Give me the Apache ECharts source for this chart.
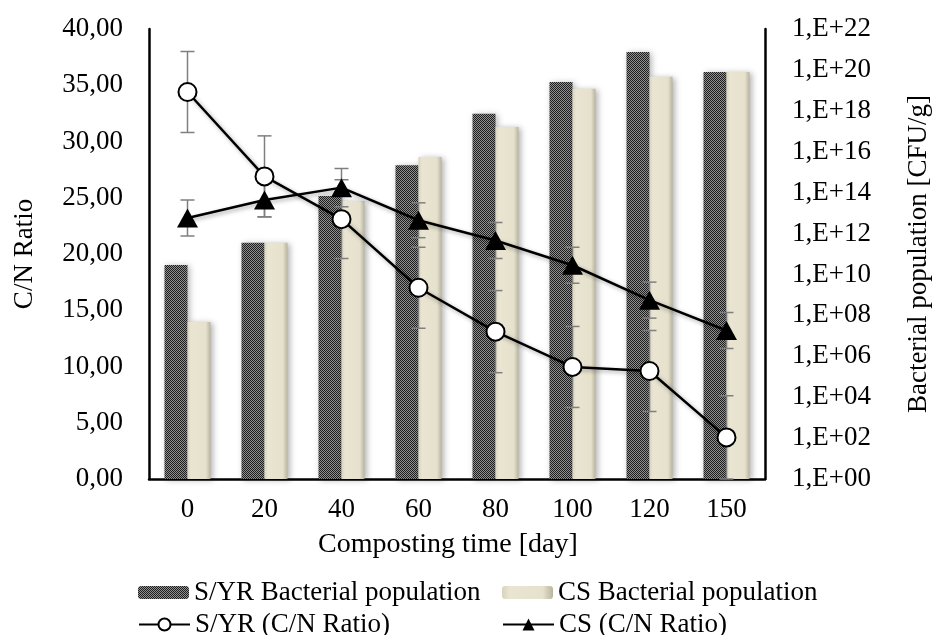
<!DOCTYPE html>
<html>
<head>
<meta charset="utf-8">
<script src="https://cdn.jsdelivr.net/npm/echarts@6/dist/echarts.min.js"></script>
<style>
  html, body { margin: 0; padding: 0; background: #fff; }
  #chart { width: 935px; height: 635px; }
</style>
</head>
<body>
<div id="chart"></div>
<script>
// composting days
const days = ['0', '20', '40', '60', '80', '100', '120', '150']

// bacterial population [CFU/g], right (log) axis
const syrBacteria = [2.9e10, 3.5e11, 6.9e13, 2.2e15, 7.1e17, 2.6e19, 7.6e20, 7.9e19]
const csBacteria = [4.8e7, 3.5e11, 3.9e13, 5.6e15, 1.6e17, 1.2e19, 4.6e19, 7.9e19]

// C/N ratio, left axis, with +/- error
const syrCN = [34.4, 26.9, 23.1, 17.0, 13.1, 9.96, 9.6, 3.7]
const syrCNErr = [3.6, 3.6, 3.5, 3.6, 3.65, 3.6, 3.6, 3.7]
const csCN = [23.2, 24.8, 25.9, 23.0, 21.2, 19.0, 15.9, 13.2]
const csCNErr = [1.6, 1.5, 1.7, 1.55, 1.6, 1.6, 1.6, 1.6]

const FONT = "'Liberation Serif', 'Times New Roman', serif"

// checker pattern for the S/YR bars
function checker() {
  const c = document.createElement('canvas')
  c.width = 2
  c.height = 2
  const ctx = c.getContext('2d')
  ctx.fillStyle = '#909090'
  ctx.fillRect(0, 0, 2, 2)
  ctx.fillStyle = '#1e1e1e'
  ctx.fillRect(0, 0, 1, 1)
  ctx.fillRect(1, 1, 1, 1)
  return c
}

const creamFill = new echarts.graphic.LinearGradient(0, 0, 1, 0, [
  { offset: 0, color: '#d8d3bd' },
  { offset: 0.15, color: '#e9e5d2' },
  { offset: 0.8, color: '#e6e1cc' },
  { offset: 1, color: '#b9b49e' }
])

function errData(vals, errs) {
  return vals.map((v, i) => [i, v - errs[i], v + errs[i]])
}

function renderErr(params, api) {
  const lo = api.coord([api.value(0), api.value(1)])
  const hi = api.coord([api.value(0), api.value(2)])
  const w = 7
  const style = { stroke: '#7f7f7f', lineWidth: 1.5 }
  return {
    type: 'group',
    children: [
      { type: 'line', shape: { x1: lo[0], y1: lo[1], x2: hi[0], y2: hi[1] }, style },
      { type: 'line', shape: { x1: lo[0] - w, y1: lo[1], x2: lo[0] + w, y2: lo[1] }, style },
      { type: 'line', shape: { x1: hi[0] - w, y1: hi[1], x2: hi[0] + w, y2: hi[1] }, style }
    ]
  }
}

const chart = echarts.init(document.getElementById('chart'))

const legendBase = {
  orient: 'horizontal',
  itemWidth: 51,
  textStyle: { fontFamily: FONT, fontSize: 27, color: '#000' }
}

chart.setOption({
  animation: false,
  textStyle: { fontFamily: FONT },
  grid: { left: 149, right: 170, top: 29, bottom: 156, containLabel: false, outerBoundsMode: 'none' },
  legend: [
    Object.assign({}, legendBase, { left: 133, top: 574, itemHeight: 13, data: ['S/YR Bacterial population'] }),
    Object.assign({}, legendBase, { left: 497, top: 574, itemHeight: 13, data: ['CS Bacterial population'] }),
    Object.assign({}, legendBase, { left: 133, top: 606, itemHeight: 15, data: ['S/YR (C/N Ratio)'] }),
    Object.assign({}, legendBase, { left: 497, top: 606, itemHeight: 15, data: ['CS (C/N Ratio)'] })
  ],
  xAxis: {
    type: 'category',
    data: days,
    name: 'Composting time [day]',
    nameLocation: 'middle',
    nameGap: 52,
    nameTextStyle: { fontFamily: FONT, fontSize: 28, color: '#000', padding: [0, 18, 0, 0] },
    axisLine: { lineStyle: { color: '#000', width: 2.5 } },
    axisTick: { show: false },
    axisLabel: { fontFamily: FONT, fontSize: 27, color: '#000', margin: 17 }
  },
  yAxis: [
    {
      type: 'value',
      min: 0,
      max: 40,
      interval: 5,
      name: 'C/N Ratio',
      nameLocation: 'middle',
      nameRotate: 90,
      nameGap: 111,
      nameTextStyle: { fontFamily: FONT, fontSize: 27, color: '#000' },
      axisLine: { show: true, lineStyle: { color: '#000', width: 2.5 } },
      axisTick: { show: false },
      splitLine: { show: false },
      axisLabel: {
        fontFamily: FONT, fontSize: 27, color: '#000', margin: 26,
        formatter: v => v.toFixed(2).replace('.', ',')
      }
    },
    {
      type: 'log',
      logBase: 10,
      min: 1,
      max: 1e22,
      interval: 2,
      position: 'right',
      name: 'Bacterial population [CFU/g]',
      nameLocation: 'middle',
      nameRotate: 90,
      nameGap: 140,
      nameTextStyle: { fontFamily: FONT, fontSize: 27, color: '#000' },
      axisLine: { show: true, lineStyle: { color: '#000', width: 2.5 } },
      axisTick: { show: false },
      splitLine: { show: false },
      axisLabel: {
        fontFamily: FONT, fontSize: 27, color: '#000', margin: 27,
        formatter: v => {
          const e = Math.round(Math.log10(v))
          return '1,E+' + (e < 10 ? '0' + e : e)
        }
      }
    }
  ],
  series: [
    {
      name: 'S/YR Bacterial population',
      type: 'bar',
      yAxisIndex: 1,
      barWidth: 23,
      barGap: '0%',
      itemStyle: {
        color: { image: checker(), repeat: 'repeat' },
        shadowBlur: 6,
        shadowColor: 'rgba(0,0,0,0.3)',
        shadowOffsetX: 2,
        shadowOffsetY: 1
      },
      data: syrBacteria
    },
    {
      name: 'CS Bacterial population',
      type: 'bar',
      yAxisIndex: 1,
      barWidth: 23,
      barGap: '0%',
      itemStyle: {
        color: creamFill,
        shadowBlur: 6,
        shadowColor: 'rgba(0,0,0,0.3)',
        shadowOffsetX: 2,
        shadowOffsetY: 1
      },
      data: csBacteria
    },
    {
      type: 'custom',
      yAxisIndex: 0,
      renderItem: renderErr,
      data: errData(syrCN, syrCNErr),
      z: 3
    },
    {
      type: 'custom',
      yAxisIndex: 0,
      renderItem: renderErr,
      data: errData(csCN, csCNErr),
      z: 3
    },
    {
      name: 'S/YR (C/N Ratio)',
      type: 'line',
      yAxisIndex: 0,
      symbol: 'emptyCircle',
      symbolSize: 18,
      color: '#000',
      lineStyle: {
        color: '#000', width: 2.5,
        shadowBlur: 4, shadowColor: 'rgba(0,0,0,0.35)', shadowOffsetX: 2, shadowOffsetY: 2
      },
      itemStyle: { color: '#000', borderColor: '#000', borderWidth: 2.5 },
      data: syrCN,
      z: 5
    },
    {
      name: 'CS (C/N Ratio)',
      type: 'line',
      yAxisIndex: 0,
      symbol: 'triangle',
      symbolSize: [21, 19],
      color: '#000',
      lineStyle: {
        color: '#000', width: 2.5,
        shadowBlur: 4, shadowColor: 'rgba(0,0,0,0.35)', shadowOffsetX: 2, shadowOffsetY: 2
      },
      itemStyle: { color: '#000' },
      data: csCN,
      z: 5
    }
  ]
})
</script>
</body>
</html>
